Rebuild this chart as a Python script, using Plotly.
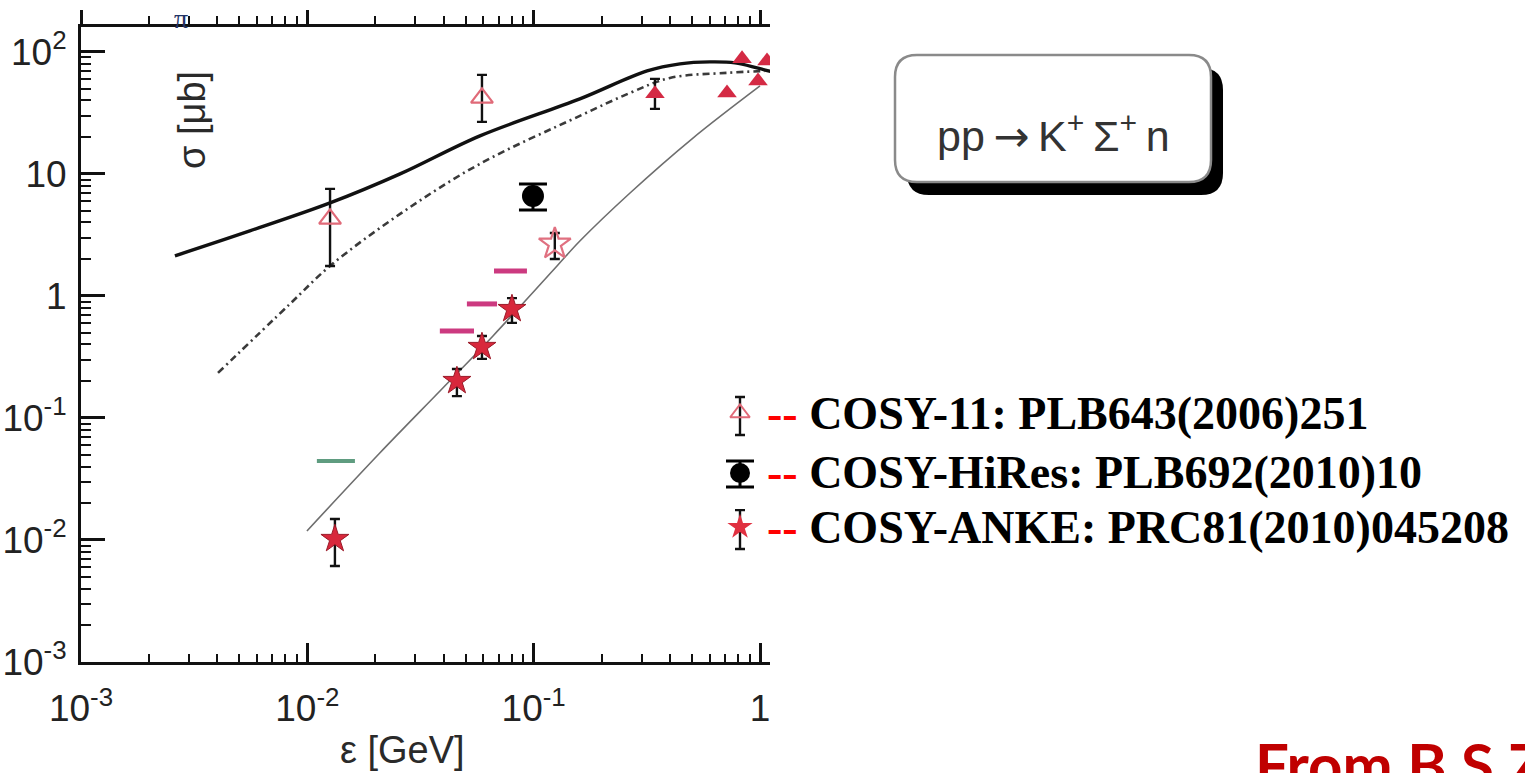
import plotly.graph_objects as go

W, H = 1525, 773

# ---------------- data ----------------
solid_x = [0.0026, 0.00557, 0.0126, 0.0257, 0.0579, 0.160, 0.317, 0.443, 0.601, 0.776, 0.970, 1.13]
solid_y = [2.13, 3.41, 5.78, 10.0, 20.5, 41.2, 69.9, 79.8, 82.8, 81.3, 74.0, 68.6]

dashdot_x = [0.00403, 0.00838, 0.0126, 0.0257, 0.0579, 0.160, 0.2665, 0.400, 0.715, 1.05]
dashdot_y = [0.234, 0.860, 1.76, 4.70, 12.1, 29.9, 46.1, 61.2, 67.3, 69.8]

thin_x = [0.00996, 0.0209, 0.0397, 0.0661, 0.1268, 0.160, 0.2665, 0.501, 1.0]
thin_y = [0.01186, 0.0516, 0.176, 0.470, 1.76, 2.82, 6.98, 19.4, 52.6]

magenta_x0 = [0.0385, 0.0507, 0.0668]
magenta_x1 = [0.0545, 0.0689, 0.0934]
magenta_y = [0.517, 0.86, 1.6]

green_x0 = [0.01102]
green_x1 = [0.01623]
green_y = [0.0444]

other_x = [0.3435, 0.715, 0.833, 0.980, 1.074]
other_y = [45.3, 46.1, 87.7, 57.8, 84.4]
other_ep = [14.8, 0, 0, 0, 0]
other_em = [11.2, 0, 0, 0, 0]

cosy11_x = [0.0126, 0.0591]
cosy11_y = [4.28, 42.0]
cosy11_ep = [3.26, 22.8]
cosy11_em = [2.52, 15.3]

hires_x = [0.0993]
hires_y = [6.6]
hires_ep = [1.68]
hires_em = [1.53]

anke_x = [0.01324, 0.0458, 0.0591, 0.0802]
anke_y = [0.0102, 0.201, 0.382, 0.782]
anke_ep = [0.00466, 0.051, 0.088, 0.178]
anke_em = [0.00408, 0.050, 0.077, 0.181]

openstar_x = [0.124]
openstar_y = [2.67]
openstar_ep = [0.61]
openstar_em = [0.66]

x_tickvals = [0.001, 0.01, 0.1, 1]
x_ticktext = ["10<sup>-3</sup>", "10<sup>-2</sup>", "10<sup>-1</sup>", "1"]
y_tickvals = [0.001, 0.01, 0.1, 1, 10, 100]
y_ticktext = ["10<sup>-3</sup>", "10<sup>-2</sup>", "10<sup>-1</sup>", "1", "10", "10<sup>2</sup>"]

legend_labels = ["COSY-11: PLB643(2006)251", "COSY-HiRes: PLB692(2010)10", "COSY-ANKE: PRC81(2010)045208"]

# ---------------- helpers ----------------
def px(x):
    return x / W

def py(y):
    return 1 - y / H

def minor_vals(lo_exp, hi_exp):
    v = []
    for e in range(lo_exp, hi_exp + 1):
        for d in range(2, 10):
            v.append(d * 10 ** e)
    return v

def segs(x0, x1, y):
    xs, ys = [], []
    for a, b, c in zip(x0, x1, y):
        xs += [a, b, None]
        ys += [c, c, None]
    return xs, ys

def rounded_rect_path(x0, y0, x1, y1, r):
    pts = [
        ("M", [(x0 + r, y0)]),
        ("L", [(x1 - r, y0)]),
        ("Q", [(x1, y0), (x1, y0 + r)]),
        ("L", [(x1, y1 - r)]),
        ("Q", [(x1, y1), (x1 - r, y1)]),
        ("L", [(x0 + r, y1)]),
        ("Q", [(x0, y1), (x0, y1 - r)]),
        ("L", [(x0, y0 + r)]),
        ("Q", [(x0, y0), (x0 + r, y0)]),
    ]
    s = ""
    for cmd, ps in pts:
        s += cmd + " " + " ".join(f"{px(a):.5f},{py(b):.5f}" for a, b in ps) + " "
    return s + "Z"

fig = go.Figure()

# curves
fig.add_trace(go.Scatter(x=thin_x, y=thin_y, mode="lines", line=dict(color="#6e6e6e", width=1.6, shape="spline"),
                         hoverinfo="skip"))
fig.add_trace(go.Scatter(x=dashdot_x, y=dashdot_y, mode="lines",
                         line=dict(color="#3a3a3a", width=2.6, dash="7px,4px,2px,4px", shape="spline"),
                         hoverinfo="skip"))
fig.add_trace(go.Scatter(x=solid_x, y=solid_y, mode="lines", line=dict(color="#111111", width=3.4, shape="spline"),
                         hoverinfo="skip"))

mx, my = segs(magenta_x0, magenta_x1, magenta_y)
fig.add_trace(go.Scatter(x=mx, y=my, mode="lines", line=dict(color="#cc3a80", width=5)))
gx, gy = segs(green_x0, green_x1, green_y)
fig.add_trace(go.Scatter(x=gx, y=gy, mode="lines", line=dict(color="#5f9c80", width=4)))

err = dict(type="data", symmetric=False, color="#111111", thickness=2.4, width=5)

fig.add_trace(go.Scatter(x=other_x, y=other_y, mode="markers",
                         marker=dict(symbol="triangle-up", size=17, color="#d42a44", line=dict(width=0)),
                         error_y=dict(err, array=other_ep, arrayminus=other_em)))
fig.add_trace(go.Scatter(x=cosy11_x, y=cosy11_y, mode="markers",
                         marker=dict(symbol="triangle-up-open", size=19, color="#e06a78", line=dict(width=2.2)),
                         error_y=dict(err, array=cosy11_ep, arrayminus=cosy11_em)))
fig.add_trace(go.Scatter(x=openstar_x, y=openstar_y, mode="markers",
                         marker=dict(symbol="star-open", size=24, color="#e07080", line=dict(width=2.2)),
                         error_y=dict(err, array=openstar_ep, arrayminus=openstar_em)))
fig.add_trace(go.Scatter(x=anke_x, y=anke_y, mode="markers",
                         marker=dict(symbol="star", size=21, color="#d8283c", line=dict(width=1, color="#9a1a28")),
                         error_y=dict(err, array=anke_ep, arrayminus=anke_em)))
fig.add_trace(go.Scatter(x=hires_x, y=hires_y, mode="markers",
                         marker=dict(symbol="circle", size=22, color="#000000"),
                         error_y=dict(type="data", symmetric=False, array=hires_ep, arrayminus=hires_em,
                                      color="#000000", thickness=3, width=14)))

# dummy trace for the top axis
fig.add_trace(go.Scatter(x=[0.01], y=[1], xaxis="x3", yaxis="y", mode="markers",
                         marker=dict(opacity=0), hoverinfo="skip"))

# legend glyphs on an auxiliary axis
lg_y = [0.8167, 0.4833, 0.1833]
fig.add_trace(go.Scatter(x=[0.5], y=[lg_y[0]], xaxis="x2", yaxis="y2", mode="markers",
                         marker=dict(symbol="triangle-up-open", size=17, color="#e06a78", line=dict(width=2)),
                         error_y=dict(err, array=[0.089], arrayminus=[0.122])))
fig.add_trace(go.Scatter(x=[0.5], y=[lg_y[1]], xaxis="x2", yaxis="y2", mode="markers",
                         marker=dict(symbol="circle", size=20, color="#000000"),
                         error_y=dict(type="data", symmetric=False, array=[0.0667], arrayminus=[0.0778],
                                      color="#000000", thickness=3, width=14)))
fig.add_trace(go.Scatter(x=[0.5], y=[lg_y[2]], xaxis="x2", yaxis="y2", mode="markers",
                         marker=dict(symbol="star", size=19, color="#e03040", line=dict(width=0)),
                         error_y=dict(err, array=[0.094], arrayminus=[0.122])))

tickfont = dict(family="Liberation Sans", size=37, color="#222222")
xrange = [-3, 0.0442]
yrange = [-3, 2.204]

fig.update_layout(
    width=W, height=H,
    margin=dict(l=0, r=0, t=0, b=0, autoexpand=False),
    paper_bgcolor="white", plot_bgcolor="white",
    showlegend=False,
    xaxis=dict(type="log", range=xrange, domain=[px(81), px(770)], anchor="y", automargin=False,
               showline=True, linecolor="#111111", linewidth=3, showgrid=False, zeroline=False,
               ticks="inside", ticklen=19, tickwidth=2.5, tickcolor="#111111",
               tickvals=x_tickvals, ticktext=x_ticktext, tickfont=tickfont, ticklabelstandoff=12,
               minor=dict(ticks="inside", ticklen=8, tickwidth=2, tickcolor="#111111",
                          tickvals=minor_vals(-3, -1), showgrid=False)),
    xaxis3=dict(type="log", range=xrange, overlaying="x", side="top", anchor="y", automargin=False,
                showline=True, linecolor="#111111", linewidth=3, showgrid=False, zeroline=False,
                ticks="outside", ticklen=14, tickwidth=2.5, tickcolor="#111111",
                tickvals=x_tickvals, showticklabels=False,
                minor=dict(ticks="outside", ticklen=8, tickwidth=2, tickcolor="#111111",
                           tickvals=minor_vals(-3, -1), showgrid=False)),
    yaxis=dict(type="log", range=yrange, domain=[1 - 662 / H, 1 - 27 / H], anchor="x", automargin=False,
               showline=True, linecolor="#111111", linewidth=3, showgrid=False, zeroline=False,
               ticks="inside", ticklen=24, tickwidth=2.5, tickcolor="#111111",
               tickvals=y_tickvals, ticktext=y_ticktext, tickfont=tickfont, ticklabelstandoff=4,
               minor=dict(ticks="inside", ticklen=10, tickwidth=2, tickcolor="#111111",
                          tickvals=minor_vals(-3, 2), showgrid=False)),
    xaxis2=dict(domain=[px(700), px(780)], range=[0, 1], anchor="y2", visible=False, automargin=False),
    yaxis2=dict(domain=[py(560), py(380)], range=[0, 1], anchor="x2", visible=False, automargin=False),
)

# reaction box
fig.add_shape(type="path", xref="paper", yref="paper", path=rounded_rect_path(907, 68, 1223, 195, 22),
              fillcolor="#000000", line=dict(width=0), layer="above")
fig.add_shape(type="path", xref="paper", yref="paper", path=rounded_rect_path(895, 55, 1211, 182, 22),
              fillcolor="#ffffff", line=dict(color="#8a8a8a", width=2.5), layer="above")

ann = []
def add_text(x, y, text, font, xanchor="center", yanchor="middle", **kw):
    ann.append(dict(x=px(x), y=py(y), xref="paper", yref="paper", showarrow=False,
                    xanchor=xanchor, yanchor=yanchor, text=text, font=font, **kw))

add_text(1053, 134,
         "pp<span style='font-family:DejaVu Sans'>\u2009→\u2009</span>K<sup>+</sup>\u2009Σ<sup>+</sup>\u2009n",
         dict(family="Liberation Sans", size=43, color="#333333"))
add_text(192, 120, "σ [μb]", dict(family="Liberation Sans", size=38, color="#2a2a2a"), textangle=-90)
add_text(402, 750, "ε [GeV]", dict(family="Liberation Sans", size=38, color="#2a2a2a"))
add_text(181, 19, "π", dict(family="Liberation Serif", size=28, color="#223366"))

leg_py = [413, 472, 527]
for lab, yy in zip(legend_labels, leg_py):
    add_text(765, yy, f"<b><span style='color:#ff0000'>--</span> {lab}</b>",
             dict(family="Liberation Serif", size=46, color="#000000"), xanchor="left")

add_text(1253, 726, "<b>From B.S.Z</b>", dict(family="Lato", size=60, color="#c00000"),
         xanchor="left", yanchor="top")

fig.update_layout(annotations=ann)

fig.write_html("out.html",
               config={"displayModeBar": False},
               post_script="document.body.style.margin='0';document.body.style.overflow='hidden';")
